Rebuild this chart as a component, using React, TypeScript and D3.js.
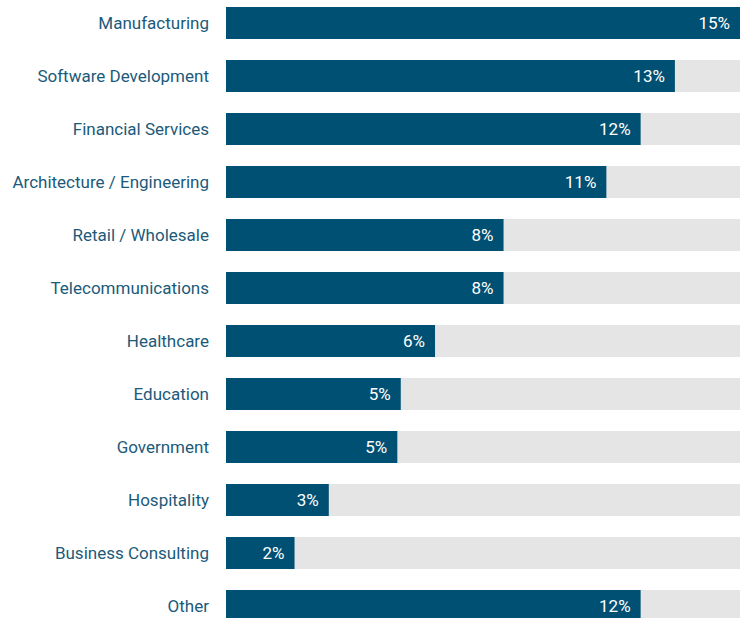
import { useEffect, useRef } from 'react';
import { scaleBand, scaleLinear, select } from 'd3';

const categories = [
  'Manufacturing',
  'Software Development',
  'Financial Services',
  'Architecture / Engineering',
  'Retail / Wholesale',
  'Telecommunications',
  'Healthcare',
  'Education',
  'Government',
  'Hospitality',
  'Business Consulting',
  'Other',
];
const values = [15, 13.1, 12.1, 11.1, 8.1, 8.1, 6.1, 5.1, 5.0, 3.0, 2.0, 12.1];
const valueLabels = ['15%', '13%', '12%', '11%', '8%', '8%', '6%', '5%', '5%', '3%', '2%', '12%'];

export default function App() {
  const svgRef = useRef<SVGSVGElement>(null);

  useEffect(() => {
    document.body.style.margin = '0';
    const width = 740;
    const height = 618;
    const margin = { top: 7, right: 0, bottom: 0, left: 226 };
    const step = 53;
    const barH = 32;

    const svg = select(svgRef.current);
    svg.selectAll('*').remove();
    svg.attr('width', width).attr('height', height);

    const x = scaleLinear().domain([0, 15]).range([margin.left, width - margin.right]);
    // 마지막 막대까지: step * (n - 1) + 막대 높이
    const y = scaleBand()
      .domain(categories)
      .range([margin.top, margin.top + step * (categories.length - 1) + barH])
      .paddingInner((step - barH) / step)
      .paddingOuter(0)
      .align(0);

    const data = categories.map((c, i) => ({ name: c, value: values[i], label: valueLabels[i] }));

    const row = svg
      .selectAll('g.row')
      .data(data)
      .enter()
      .append('g')
      .attr('class', 'row')
      .attr('transform', (d) => `translate(0, ${y(d.name)})`);

    // 배경 트랙
    row
      .append('rect')
      .attr('x', x(0))
      .attr('y', 0)
      .attr('width', x(15) - x(0))
      .attr('height', y.bandwidth())
      .attr('fill', '#e5e5e5');

    // 값 막대
    row
      .append('rect')
      .attr('x', x(0))
      .attr('y', 0)
      .attr('width', (d) => x(d.value) - x(0))
      .attr('height', y.bandwidth())
      .attr('fill', '#005073');

    // 카테고리 라벨
    row
      .append('text')
      .attr('x', x(0) - 17)
      .attr('y', y.bandwidth() / 2)
      .attr('dy', '0.35em')
      .attr('text-anchor', 'end')
      .attr('fill', '#1b5a7a')
      .attr('font-family', 'Roboto, sans-serif')
      .attr('font-size', 17)
      .text((d) => d.name);

    // 값 라벨
    row
      .append('text')
      .attr('x', (d) => Math.min(x(d.value) - 10, x(15) - 4))
      .attr('y', y.bandwidth() / 2)
      .attr('dy', '0.35em')
      .attr('text-anchor', 'end')
      .attr('fill', '#ffffff')
      .attr('font-family', 'Roboto, sans-serif')
      .attr('font-size', 17)
      .text((d) => d.label);
  }, []);

  return (
    <div>
      <svg ref={svgRef} style={{ display: 'block' }}></svg>
    </div>
  );
}
